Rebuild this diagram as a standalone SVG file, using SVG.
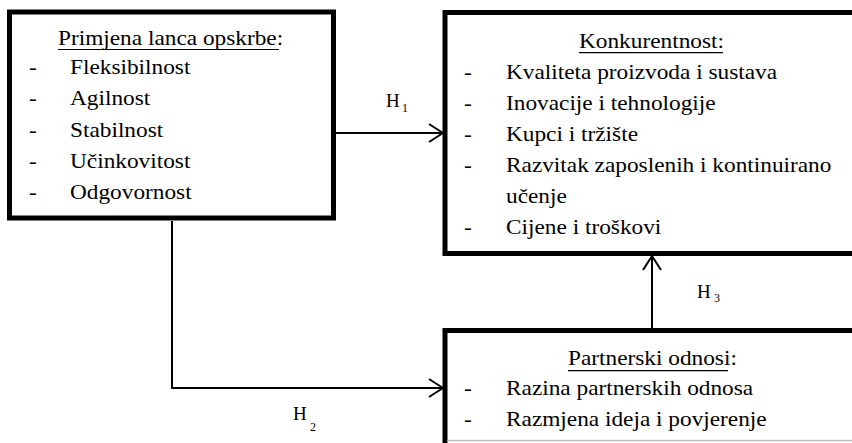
<svg xmlns="http://www.w3.org/2000/svg" width="852" height="443" viewBox="0 0 852 443">
<style>
.box{fill:#fff;stroke:#000;stroke-width:5}
.t{font-family:'Liberation Serif','DejaVu Serif',serif;font-size:21px;fill:#000}
.h{font-family:'Liberation Serif','DejaVu Serif',serif;font-size:19px;fill:#000}
.s{font-family:'Liberation Serif','DejaVu Serif',serif;font-size:12px;fill:#000}
.ul{stroke:#000;stroke-width:1.2}
.c{fill:none;stroke:#000;stroke-width:2}
</style>
<defs>
<marker id="arr" viewBox="0 0 16 20" refX="15" refY="10" markerWidth="16" markerHeight="20" markerUnits="userSpaceOnUse" orient="auto">
<path d="M1,1 L15,10 L1,19" fill="none" stroke="#000" stroke-width="2"/>
</marker>
</defs>
<rect width="852" height="443" fill="#fff"/>
<g id="connectors">
<line class="c" x1="335" y1="133" x2="443" y2="133" marker-end="url(#arr)"/>
<polyline class="c" points="172,221 172,388 443,388" marker-end="url(#arr)"/>
<line class="c" x1="652" y1="328" x2="652" y2="256" marker-end="url(#arr)"/>
<text class="h" x="386" y="107">H</text><text class="s" x="402" y="112">1</text>
<text class="h" x="293" y="420">H</text><text class="s" x="310" y="431">2</text>
<text class="h" x="697" y="298">H</text><text class="s" x="714" y="302">3</text>
</g>
<g id="node-primjena">
<rect class="box" x="9.5" y="12" width="324" height="206"/>
<text class="t" transform="translate(58,45) scale(1.11,1)">Primjena lanca opskrbe:</text>
<line class="ul" x1="58" y1="49.5" x2="279" y2="49.5"/>
<text class="t" transform="translate(29,74) scale(1.11,1)">-</text>
<text class="t" transform="translate(70,74) scale(1.11,1)">Fleksibilnost</text>
<text class="t" transform="translate(29,105) scale(1.11,1)">-</text>
<text class="t" transform="translate(70,105) scale(1.11,1)">Agilnost</text>
<text class="t" transform="translate(29,137) scale(1.11,1)">-</text>
<text class="t" transform="translate(70,137) scale(1.11,1)">Stabilnost</text>
<text class="t" transform="translate(29,168) scale(1.11,1)">-</text>
<text class="t" transform="translate(70,168) scale(1.11,1)">Učinkovitost</text>
<text class="t" transform="translate(29,199) scale(1.11,1)">-</text>
<text class="t" transform="translate(70,199) scale(1.11,1)">Odgovornost</text>
</g>
<g id="node-konkurentnost">
<rect class="box" x="445" y="12.5" width="420" height="241"/>
<text class="t" transform="translate(579,47.5) scale(1.11,1)">Konkurentnost:</text>
<line class="ul" x1="579" y1="52.7" x2="723" y2="52.7"/>
<text class="t" transform="translate(464,79) scale(1.11,1)">-</text>
<text class="t" transform="translate(506,79) scale(1.11,1)">Kvaliteta proizvoda i sustava</text>
<text class="t" transform="translate(464,110) scale(1.11,1)">-</text>
<text class="t" transform="translate(506,110) scale(1.11,1)">Inovacije i tehnologije</text>
<text class="t" transform="translate(464,141) scale(1.11,1)">-</text>
<text class="t" transform="translate(506,141) scale(1.11,1)">Kupci i tržište</text>
<text class="t" transform="translate(464,172) scale(1.11,1)">-</text>
<text class="t" transform="translate(506,172) scale(1.11,1)">Razvitak zaposlenih i kontinuirano</text>
<text class="t" transform="translate(506,203) scale(1.11,1)">učenje</text>
<text class="t" transform="translate(464,233.5) scale(1.11,1)">-</text>
<text class="t" transform="translate(506,233.5) scale(1.11,1)">Cijene i troškovi</text>
</g>
<g id="node-partnerski">
<rect class="box" x="445" y="330.5" width="420" height="130"/>
<line x1="447" y1="440.5" x2="852" y2="440.5" stroke="#bbb" stroke-width="1.5"/>
<text class="t" transform="translate(568,365) scale(1.11,1)">Partnerski odnosi:</text>
<line class="ul" x1="568" y1="370.7" x2="728" y2="370.7"/>
<text class="t" transform="translate(464,395) scale(1.11,1)">-</text>
<text class="t" transform="translate(506,395) scale(1.11,1)">Razina partnerskih odnosa</text>
<text class="t" transform="translate(464,426) scale(1.11,1)">-</text>
<text class="t" transform="translate(506,426) scale(1.11,1)">Razmjena ideja i povjerenje</text>
</g>
</svg>
